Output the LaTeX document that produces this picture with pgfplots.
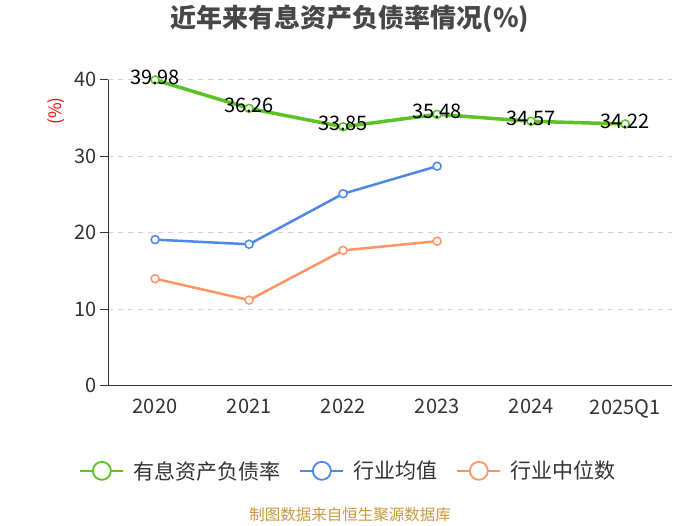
\documentclass[border=0pt]{standalone}
\usepackage{pgfplots}
\pgfplotsset{compat=1.18}
\usepackage{fontspec}
\setmainfont{Noto Sans CJK SC}
\definecolor{cgreen}{HTML}{5AC425}
\definecolor{cblue}{HTML}{4F88E8}
\definecolor{corange}{HTML}{FF9466}
\definecolor{ctext}{HTML}{333333}
\definecolor{csrc}{HTML}{CC9A3A}
\begin{document}
\begin{tikzpicture}[x=1pt,y=1pt]
\fill[white] (0,0) rectangle (700,525);
\node[font=\fontsize{26}{30}\selectfont\bfseries, text=ctext!90] at (350,506) {近年来有息资产负债率情况(\%)};
\node[font=\fontsize{17}{20}\selectfont, text=red, rotate=90] at (56,414) {(\%)};
\node[font=\fontsize{15.5}{18}\selectfont, text=csrc] at (350,10) {制图数据来自恒生聚源数据库};
\begin{axis}[
  at={(165,182)}, anchor=origin,
  scale only axis, width=564pt, height=306pt,
  xmin=-0.5, xmax=5.5, ymin=0, ymax=40,
  axis x line=bottom, axis y line=left,
  axis line style={-, ctext, line width=1pt},
  xtick={0,1,2,3,4,5},
  xticklabels={2020,2021,2022,2023,2024,2025Q1},
  major x tick style={draw=none},
  extra x ticks={-0.5,0.5,1.5,2.5,3.5,4.5,5.5},
  extra x tick labels={},
  extra x tick style={major tick length=8pt, tick style={draw=ctext, line width=1pt}, tick align=outside, grid=none},
  ytick={0,10,20,30,40},
  tick align=outside,
  major tick length=8pt,
  tick style={ctext, line width=1pt},
  ymajorgrids,
  grid style={gray!35, dash pattern=on 5pt off 5pt, line width=0.8pt},
  ticklabel style={font=\fontsize{20}{24}\selectfont, text=ctext},
  /pgf/number format/assume math mode=true,
  xticklabel style={yshift=-2pt},
  legend columns=3,
  legend style={at={(0.426,-0.278)}, anchor=center, draw=none, fill=none,
    font=\fontsize{21}{24}\selectfont, text=ctext,
    /tikz/every odd column/.append style={column sep=7pt},
    /tikz/every even column/.append style={column sep=17pt}},
  legend image code/.code={
    \draw[line width=2pt] (0pt,0pt) -- (43pt,0pt);
    \draw[line width=1.8pt, fill=white] (21.5pt,0pt) circle (9pt);
  },
  clip=false,
]
\addplot[cgreen, line width=3.5pt, mark=*, mark size=4pt, mark options={fill=white, line width=1.5pt},
  nodes near coords, point meta=explicit symbolic,
  every node near coord/.style={anchor=center, yshift=3pt, font=\fontsize{20}{24}\selectfont, text=black}]
  coordinates {(0,39.98)[39.98] (1,36.26)[36.26] (2,33.85)[33.85] (3,35.48)[35.48] (4,34.57)[34.57] (5,34.22)[34.22]};
\addlegendentry{有息资产负债率}
\addplot[cblue, line width=2.5pt, mark=*, mark size=4pt, mark options={fill=white, line width=1.5pt}]
  coordinates {(0,19.1) (1,18.5) (2,25.1) (3,28.7)};
\addlegendentry{行业均值}
\addplot[corange, line width=2.5pt, mark=*, mark size=4pt, mark options={fill=white, line width=1.5pt}]
  coordinates {(0,14.0) (1,11.2) (2,17.7) (3,18.9)};
\addlegendentry{行业中位数}
\end{axis}
\pgfresetboundingbox
\path[use as bounding box] (0,0) rectangle (700,525);
\end{tikzpicture}
\end{document}
